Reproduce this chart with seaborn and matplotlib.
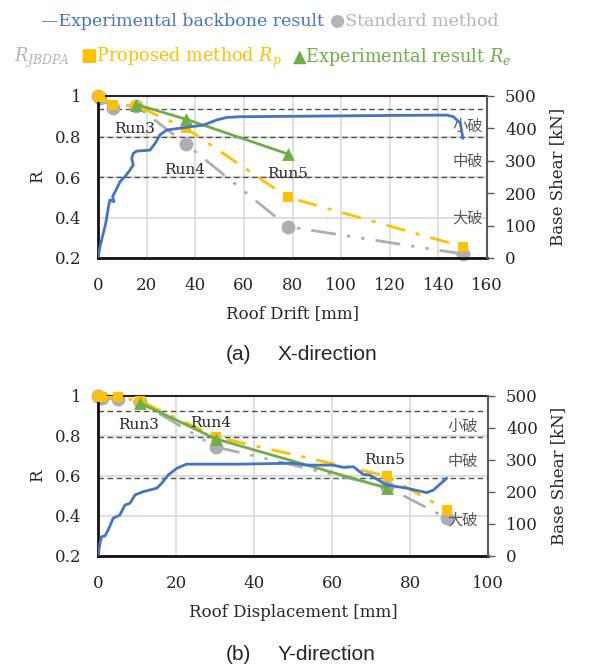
import matplotlib
matplotlib.use("Agg")
import matplotlib.pyplot as plt
import seaborn as sns

sns.set_theme(style="white")
plt.rcParams['font.family'] = ['DejaVu Serif', 'DejaVu Sans', 'Noto Sans CJK JP']
plt.rcParams['mathtext.fontset'] = 'dejavuserif'

# ---------------- data: X-direction ----------------
xa_runs = [0, 1, 6.3, 15.8, 36.3, 78, 150]
xa_std = [1.0, 0.99, 0.94, 0.95, 0.762, 0.355, 0.22]
xa_prop = [1.0, 0.995, 0.955, 0.952, 0.84, 0.50, 0.256]
xa_exp_x = [15.8, 36.3, 78]
xa_exp = [0.958, 0.885, 0.714]
xa_bb_x = [0, 0.1, 0.8, 1.5, 2.5, 3.3, 4.3, 4.9, 6.6, 6.0, 7.4, 9.1, 11.1, 13.2, 14.5,
           13.9, 14.5, 15.9, 21.4, 23.5, 25.5, 28.3, 37.9, 43.3, 48.8, 53, 58.4, 90,
           120, 143.5, 146.2, 149, 150.1]
xa_bb_v = [0, 4, 35, 56, 86, 112, 158, 179, 174, 189, 210, 236, 251, 272, 287,
           308, 323, 330, 333, 354, 380, 395, 405, 410, 426, 434, 436, 438,
           440, 441, 436, 416, 369]
xa_thr = [0.934, 0.80, 0.598]
xa_runlab = [("Run3", 15, 0.835), ("Run4", 35.8, 0.635), ("Run5", 78, 0.615)]
xa_dmg = [("小破", 0.852), ("中破", 0.68), ("大破", 0.396)]
xa_xticks = [0, 20, 40, 60, 80, 100, 120, 140, 160]

# ---------------- data: Y-direction ----------------
ya_runs = [0, 1, 5.2, 10.8, 30.3, 74, 89.4]
ya_std = [1.0, 0.99, 0.985, 0.968, 0.745, 0.545, 0.39]
ya_prop = [1.0, 0.997, 0.993, 0.975, 0.795, 0.60, 0.43]
ya_exp_x = [10.8, 30.3, 74]
ya_exp = [0.965, 0.785, 0.54]
ya_bb_x = [0, 0.5, 0.9, 1.8, 2.6, 3.9, 5.6, 6.9, 8.2, 9.5, 11.6, 15.1, 16.3, 18,
           20.2, 22.7, 36.4, 45, 50, 53.5, 60.3, 62.9, 65.5, 68, 69.7, 74, 79.1,
           84.3, 86, 89.4]
ya_bb_v = [0, 40, 60, 63, 81, 118, 128, 159, 165, 191, 201, 212, 227, 253,
           274, 287, 287, 289, 290, 284, 284, 277, 279, 255, 253, 222, 212,
           198, 206, 243]
ya_thr = [0.925, 0.795, 0.59]
ya_runlab = [("Run3", 10.3, 0.855), ("Run4", 29, 0.867), ("Run5", 73.6, 0.68)]
ya_dmg = [("小破", 0.847), ("中破", 0.675), ("大破", 0.38)]
ya_xticks = [0, 20, 40, 60, 80, 100]

r_ticks = [0.2, 0.4, 0.6, 0.8, 1.0]
r_ticklabels = ["0.2", "0.4", "0.6", "0.8", "1"]
v_ticks = [0, 100, 200, 300, 400, 500]

BLUE = "#4472C4"
GRAY = "#AEAEB2"
YEL = "#FFC000"
GRN = "#70AD47"

W, H = 590, 666
fig = plt.figure(figsize=(W / 100, H / 100), dpi=100)


def panel(rect, runs, std, prop, ex_x, ex, bbx, bbv, thr, runlab, dmg, xticks,
          xmax, xlabel, dmg_x):
    ax = fig.add_axes(rect)
    ax.set_xlim(0, xmax)
    ax.set_ylim(0.2, 1.0)
    ax.set_xticks(xticks)
    ax.set_yticks(r_ticks)
    ax.set_yticklabels(r_ticklabels)
    ax.grid(True, color="#D9D9D9", lw=1.2)
    ax.set_axisbelow(True)
    ax.tick_params(axis="x", length=0, labelsize=12, pad=14, colors="#262626")
    ax.tick_params(axis="y", length=0, labelsize=12, pad=12, colors="#262626")
    for y in thr:
        ax.axhline(y, color="#505050", lw=1.0, ls=(0, (4, 2.5)), zorder=1.5)
    # lines
    sns.lineplot(x=runs, y=std, ax=ax, color=GRAY, lw=2,
                 linestyle=(0, (9, 4, 1.2, 4, 1.2, 4)), sort=False, estimator=None, zorder=2)
    sns.lineplot(x=runs, y=prop, ax=ax, color=YEL, lw=2,
                 linestyle=(0, (7, 4, 1.5, 4)), sort=False, estimator=None, zorder=3)
    sns.lineplot(x=ex_x, y=ex, ax=ax, color=GRN, lw=2, sort=False, estimator=None, zorder=4)
    # markers
    sns.scatterplot(x=runs, y=std, ax=ax, color=GRAY, marker="o", s=100,
                    linewidth=0, zorder=2.5, clip_on=False)
    sns.scatterplot(x=runs, y=prop, ax=ax, color=YEL, marker="s", s=62,
                    linewidth=0, zorder=3.5, clip_on=False)
    sns.scatterplot(x=ex_x, y=ex, ax=ax, color=GRN, marker="^", s=85,
                    linewidth=0, zorder=4.5, clip_on=False)
    for s, xx, yy in runlab:
        ax.text(xx, yy, s, fontsize=11, ha="center", va="center", color="#262626",
                family=["DejaVu Serif"], zorder=6)
    for s, yy in dmg:
        ax.text(dmg_x, yy, s, fontsize=11, ha="right", va="center", color="#595959",
                family=["Noto Sans CJK JP"], zorder=6)
    ax.set_xlabel(xlabel, fontsize=12, color="#262626", labelpad=8)
    ax.set_ylabel("R", fontsize=12, color="#262626", labelpad=6)
    for sp in ["left", "bottom"]:
        ax.spines[sp].set_color("#111111")
        ax.spines[sp].set_linewidth(2.0)
    ax.spines["top"].set_color("#262626")
    ax.spines["top"].set_linewidth(1.5)
    ax.spines["right"].set_visible(False)

    ax2 = ax.twinx()
    ax2.set_ylim(0, 500)
    ax2.set_yticks(v_ticks)
    ax2.tick_params(axis="y", length=5, width=1, color="#595959", direction="out",
                    labelsize=12, pad=8, labelcolor="#262626")
    ax2.grid(False)
    for sp in ["left", "bottom", "top"]:
        ax2.spines[sp].set_visible(False)
    ax2.spines["right"].set_color("#595959")
    ax2.spines["right"].set_linewidth(1.5)
    sns.lineplot(x=bbx, y=bbv, ax=ax2, color=BLUE, lw=2, sort=False, estimator=None)
    ax2.set_xlim(0, xmax)
    ax2.set_ylabel("Base Shear [kN]", fontsize=12, color="#262626", labelpad=9)
    ax2.set_xlabel("")
    return ax, ax2


panel([98 / W, 1 - 258 / H, 389 / W, 162 / H], xa_runs, xa_std, xa_prop, xa_exp_x, xa_exp,
      xa_bb_x, xa_bb_v, xa_thr, xa_runlab, xa_dmg, xa_xticks, 160, "Roof Drift [mm]", 158.5)
panel([98 / W, 1 - 556 / H, 390 / W, 160 / H], ya_runs, ya_std, ya_prop, ya_exp_x, ya_exp,
      ya_bb_x, ya_bb_v, ya_thr, ya_runlab, ya_dmg, ya_xticks, 100, "Roof Displacement [mm]", 97.5)

# sub-captions
for tag, word, yc in [("(a)", "X-direction", 354), ("(b)", "Y-direction", 654)]:
    fig.text(226 / W, 1 - yc / H, tag, family=["Liberation Sans"], fontsize=15,
             ha="left", va="center", color="#262626")
    fig.text(278 / W, 1 - yc / H, word, family=["Liberation Sans"], fontsize=15,
             ha="left", va="center", color="#262626")

# ---------------- legend (coloured text) ----------------
renderer = fig.canvas.get_renderer()


def rich_line(pieces, x0, yc, fs):
    x = x0
    for s, c, gap in pieces:
        t = fig.text(x / W, 1 - yc / H, s, color=c, fontsize=fs, ha="left", va="center_baseline",
                     family=["DejaVu Serif", "DejaVu Sans"])
        bb = t.get_window_extent(renderer=renderer)
        x += bb.width + gap


rich_line([("—Experimental backbone result", BLUE, 6),
           ("●Standard method", "#B4B4B8", 0)], 41, 20, 12.5)
rich_line([("$R_{JBDPA}$", "#B4B4B8", 10),
           ("■Proposed method $R_p$", YEL, 10),
           ("▲Experimental result $R_e$", GRN, 0)], 14, 54, 12.7)

fig.savefig("out.png", dpi=100)
